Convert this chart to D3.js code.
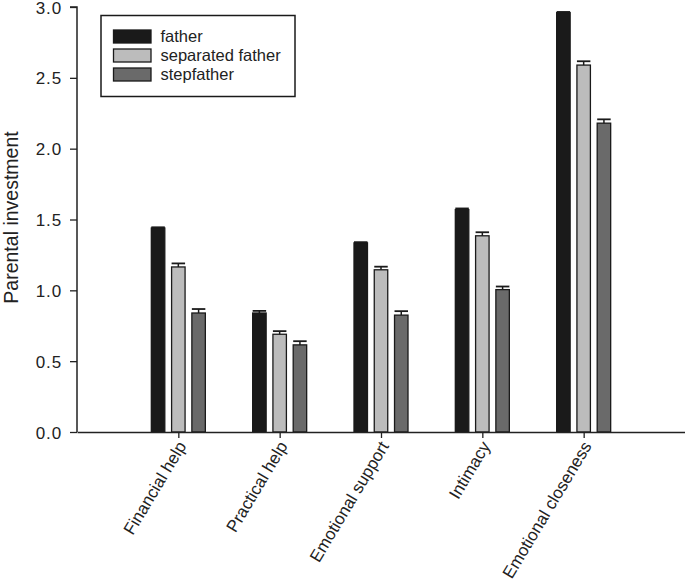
<!DOCTYPE html>
<html><head><meta charset="utf-8">
<script src="https://cdn.jsdelivr.net/npm/d3@7"></script>
<style>body{margin:0;background:#fff}svg{display:block;font-family:Arial,"Liberation Sans",sans-serif}</style>
</head><body>
<svg id="c" width="685" height="585"></svg>
<script>
const categories = ["Financial help","Practical help","Emotional support","Intimacy","Emotional closeness"];
const seriesNames = ["father","separated father","stepfather"];
const fatherVals = [1.44, 0.84, 1.335, 1.57, 2.96];
const fatherErr = [0.005, 0.015, 0.005, 0.008, 0.005];
const separatedVals = [1.165, 0.69, 1.145, 1.385, 2.59];
const separatedErr = [0.025, 0.022, 0.022, 0.025, 0.027];
const stepVals = [0.84, 0.615, 0.825, 1.005, 2.18];
const stepErr = [0.028, 0.026, 0.028, 0.022, 0.027];
const yTicks = [0, 0.5, 1.0, 1.5, 2.0, 2.5, 3.0];
const colors = ["#1a1a1a","#bcbcbc","#6a6a6a"];

const svg = d3.select("#c");
const x = d3.scaleLinear().domain([0, 6]).range([77, 685]);
const y = d3.scaleLinear().domain([0, 3]).range([432, 7]);
const series = [
  {name: seriesNames[0], vals: fatherVals, err: fatherErr},
  {name: seriesNames[1], vals: separatedVals, err: separatedErr},
  {name: seriesNames[2], vals: stepVals, err: stepErr}
];
const subOff = 0.2, barW = 0.133;

// bars
series.forEach((s, j) => {
  const g = svg.append("g");
  categories.forEach((c, i) => {
    const cx = i + 1 + (j - 1) * subOff;
    const x0 = x(cx - barW/2), x1 = x(cx + barW/2);
    g.append("rect").attr("x", x0).attr("y", y(s.vals[i]))
      .attr("width", x1 - x0).attr("height", y(0) - y(s.vals[i]))
      .attr("fill", colors[j]).attr("stroke", "#1a1a1a").attr("stroke-width", 1.3);
    const ye = y(s.vals[i] + s.err[i]);
    g.append("line").attr("x1", x(cx)).attr("x2", x(cx)).attr("y1", y(s.vals[i])).attr("y2", ye)
      .attr("stroke", "#1a1a1a").attr("stroke-width", 1.5);
    g.append("line").attr("x1", x0).attr("x2", x1).attr("y1", ye).attr("y2", ye)
      .attr("stroke", "#1a1a1a").attr("stroke-width", 1.8);
  });
});

// y axis
const yAxis = d3.axisLeft(y).tickValues(yTicks).tickFormat(d3.format(".1f")).tickSize(7).tickPadding(8);
const gy = svg.append("g").attr("transform", `translate(${x(0)},0)`).call(yAxis);
gy.select(".domain").attr("stroke", "#222").attr("stroke-width", 1.5).attr("d", `M-7,${y(3)}H0V${y(0)}`);
gy.selectAll(".tick line").attr("stroke", "#222").attr("stroke-width", 1.3);
gy.selectAll(".tick text").attr("font-size", 17).attr("letter-spacing", 0.9).attr("fill", "#222")
  .attr("font-family", "Arial, 'Liberation Sans', sans-serif").attr("dy", "0.36em");

// x axis
const xAxis = d3.axisBottom(x).tickValues(categories.map((c, i) => i + 1)).tickFormat((d) => categories[d - 1]).tickSize(6).tickSizeOuter(0);
const gx = svg.append("g").attr("transform", `translate(0,${y(0)})`).call(xAxis);
gx.select(".domain").attr("stroke", "#222").attr("stroke-width", 1.5);
gx.selectAll(".tick line").attr("stroke", "#222").attr("stroke-width", 1.3);
gx.selectAll(".tick text").attr("font-size", 17).attr("fill", "#222")
  .attr("font-family", "Arial, 'Liberation Sans', sans-serif")
  .attr("text-anchor", "end").attr("dy", null).attr("y", 0)
  .attr("transform", "translate(8,14) rotate(-59)");

// y label
svg.append("text").attr("transform", `translate(18,${(y(0)+y(3))/2 - 2}) rotate(-90)`)
  .attr("text-anchor", "middle").attr("font-size", 19.5).attr("fill", "#222").text("Parental investment");

// legend
const lg = svg.append("g");
lg.append("rect").attr("x", 101).attr("y", 15.5).attr("width", 194).attr("height", 81)
  .attr("fill", "#fff").attr("stroke", "#1a1a1a").attr("stroke-width", 1.5);
series.forEach((s, j) => {
  const yy = 30 + j * 19;
  lg.append("rect").attr("x", 113.5).attr("y", yy).attr("width", 37.5).attr("height", 13)
    .attr("fill", colors[j]).attr("stroke", "#1a1a1a").attr("stroke-width", 1.3);
  lg.append("text").attr("x", 160.5).attr("y", yy + 12).attr("font-size", 16.5).attr("fill", "#222").text(s.name);
});
</script>
</body></html>
